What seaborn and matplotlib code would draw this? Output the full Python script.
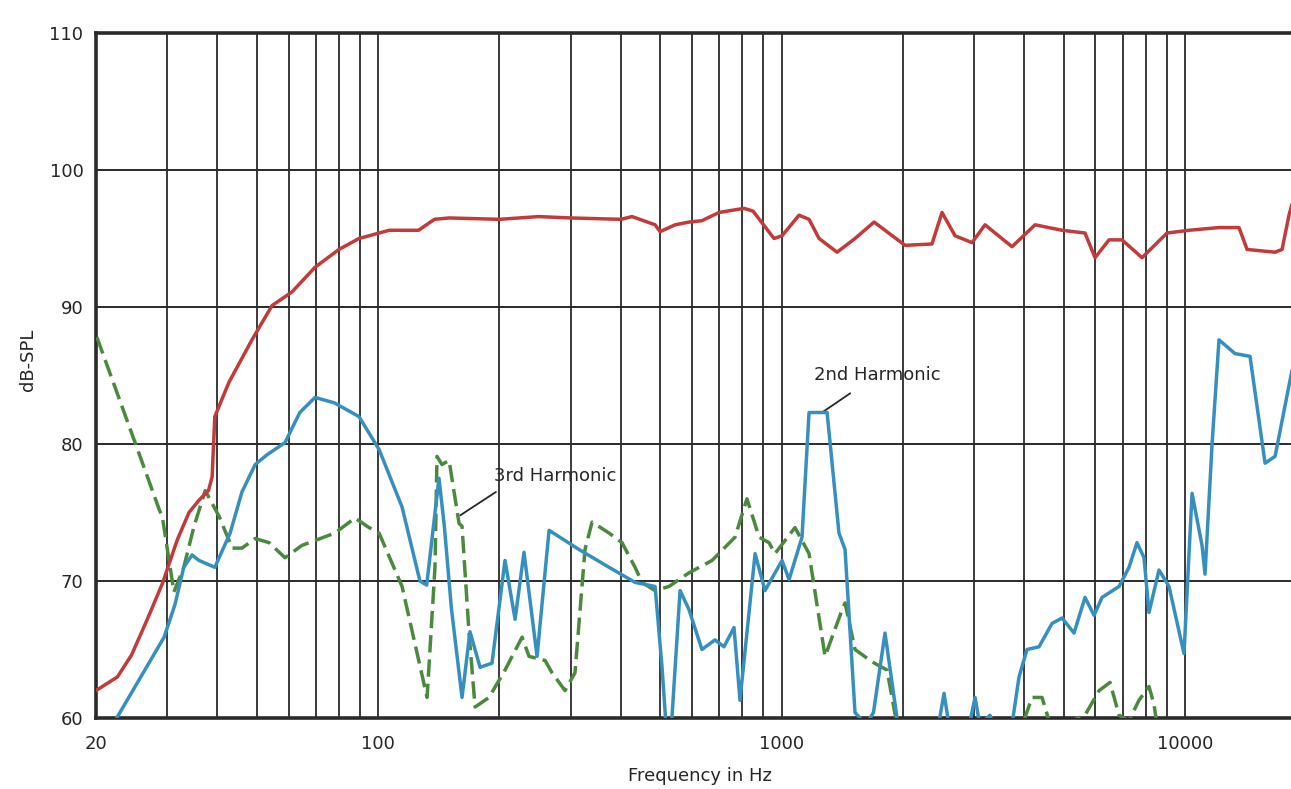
import numpy as np
import pandas as pd
import matplotlib
matplotlib.use("Agg")
import matplotlib.pyplot as plt
import seaborn as sns

# ---------------- data (Hz, dB-SPL) ----------------
resp_f = [20, 22.6, 24.5, 26.8, 29.2, 31.8, 34.0, 36.0, 38.0, 38.8, 39.4, 42.7, 48.7, 54.6,
          61.2, 69.8, 80.0, 89.7, 100.6, 106.5, 126, 138, 150, 200, 250, 300, 400, 426,
          486, 500, 545, 590, 635, 700, 807, 850, 958, 1003, 1105, 1170, 1239, 1373, 1521,
          1696, 2024, 2360, 2499, 2692, 2966, 3194, 3726, 4250, 4957, 5651, 5984, 6482,
          6981, 7824, 9025, 10230, 12140, 13610, 14250, 16720, 17400, 18100, 18530]
resp_db = [62.0, 63.0, 64.6, 67.2, 69.8, 73.0, 75.0, 75.9, 76.6, 77.6, 82.0, 84.5, 87.6, 90.1,
           91.1, 92.9, 94.2, 95.0, 95.4, 95.6, 95.6, 96.4, 96.5, 96.4, 96.6, 96.5, 96.4, 96.6,
           96.0, 95.5, 96.0, 96.2, 96.3, 96.9, 97.2, 97.0, 95.0, 95.2, 96.7, 96.4, 95.0, 94.0, 95.0,
           96.2, 94.5, 94.6, 96.9, 95.2, 94.7, 96.0, 94.4, 96.0, 95.6, 95.4, 93.6, 94.9,
           94.9, 93.6, 95.4, 95.6, 95.8, 95.8, 94.2, 94.0, 94.2, 96.7, 97.8]

h2_f = [22.0, 29.5, 31.4, 33.0, 34.6, 36.0, 39.4, 43.0, 46.0, 49.6, 53.0, 58.8, 64.0, 69.8,
        78.0, 89.7, 100.6, 114.7, 127, 132, 141.6, 146, 152, 161.5, 169, 179, 191.6, 206.4,
        218.6, 230, 247.8, 265.4, 314.8, 373.7, 433.5, 486, 505.7, 520, 535, 560.5, 590, 635,
        684, 720, 762.6, 789, 860, 910, 1003, 1044, 1124, 1170, 1297, 1388, 1437, 1521, 1620,
        1690, 1805, 1933, 2000, 2450, 2528, 2600, 2920, 3018, 3100, 3286, 3500, 3726, 3878,
        4059, 4348, 4682, 4957, 5308, 5651, 5951, 6228, 6862, 7265, 7603, 7914, 8142, 8621,
        9128, 9943, 10410, 11020, 11210, 11670, 12140, 13300, 14490, 15790, 16720, 18420]
h2_db = [59.5, 65.9, 68.3, 71.0, 71.9, 71.5, 71.0, 73.5, 76.5, 78.5, 79.2, 80.1, 82.3, 83.4,
         83.0, 82.0, 79.6, 75.4, 70.0, 69.7, 77.5, 74.0, 68.0, 61.5, 66.3, 63.7, 64.0, 71.5,
         67.2, 72.1, 64.5, 73.7, 72.3, 71.0, 69.9, 69.6, 63.7, 58.5, 60.0, 69.3, 67.9, 65.0,
         65.7, 65.2, 66.6, 61.3, 72.0, 69.3, 71.5, 70.1, 73.2, 82.3, 82.3, 73.5, 72.3, 60.4, 59.5,
         60.4, 66.2, 60.0, 58.0, 59.5, 61.8, 59.5, 59.5, 61.5, 59.5, 60.2, 58.0, 59.5, 63.0,
         65.0, 65.2, 66.9, 67.3, 66.2, 68.8, 67.5, 68.8, 69.6, 71.0, 72.8, 71.7, 67.7, 70.8,
         69.6, 64.7, 76.4, 72.6, 70.5, 80.0, 87.6, 86.6, 86.4, 78.6, 79.1, 85.4]

h3_f = [20.1, 25.0, 28.7, 29.2, 31.2, 33.0, 35.0, 37.3, 40.4, 43.5, 46.0, 49.6, 53.7, 58.8,
        64.8, 78.2, 87.7, 95.0, 100.6, 114.7, 132.3, 138.4, 140, 144, 150, 158.8, 161.5, 168.1,
        174, 188.4, 206.4, 227.5, 236.7, 259.4, 270, 290.7, 307.7, 325.8, 339.2, 373.7, 402.4,
        433.5, 451, 486, 526, 590, 672.6, 767, 821, 880, 931, 963.6, 1080, 1170, 1282, 1413,
        1437, 1521, 1677, 1826, 1911, 2000, 3000, 3900, 4177, 4423, 4603, 5248, 5651, 6123,
        6519, 6862, 7265, 7691, 8142, 8378, 8522, 9000]
h3_db = [87.8, 80.1, 75.2, 74.7, 69.2, 71.0, 74.0, 76.6, 74.7, 72.4, 72.4, 73.1, 72.8, 71.7,
         72.6, 73.5, 74.6, 73.9, 73.5, 69.6, 61.5, 71.0, 79.1, 78.5, 78.8, 74.2, 74.0, 66.2,
         60.8, 61.5, 63.5, 65.9, 64.5, 64.2, 63.3, 62.0, 63.3, 72.3, 74.3, 73.5, 72.8,
         71.0, 69.9, 69.3, 69.6, 70.6, 71.5, 73.2, 76.0, 73.2, 72.8, 72.0, 73.9, 72.0, 64.5, 67.9,
         68.4, 65.0, 64.1, 63.5, 60.3, 58.5, 58.0, 59.0, 61.5, 61.5, 59.8, 59.8, 60.2, 62.0,
         62.6, 60.2, 59.8, 61.3, 62.3, 61.0, 59.5, 58.0]

grid_x = [20, 30, 40, 50, 60, 70, 80, 90, 100, 200, 300, 400, 500, 600, 700, 800, 900,
          1000, 2000, 3000, 4000, 5000, 6000, 7000, 8000, 9000, 10000]
x_labels = {20: "20", 100: "100", 1000: "1000", 10000: "10000"}
y_ticks = [60, 70, 80, 90, 100, 110]

# ---------------- figure ----------------
sns.set_style("white")
plt.rcParams['font.family'] = ['DejaVu Sans']

W, H = 1291, 789
fig = plt.figure(figsize=(W / 100, H / 100), dpi=100)
ax = fig.add_axes([96 / W, 1 - 718 / H, (W - 96) / W, (718 - 33) / H])

ax.set_xscale("log")
ax.set_xlim(20, 18310)
ax.set_ylim(60, 110)

# grid
for g in grid_x[1:]:
    ax.axvline(g, color="#3a3a3a", lw=1.4, zorder=1)
for yv in y_ticks[1:-1]:
    ax.axhline(yv, color="#2a2a2a", lw=1.4, zorder=1)

df_r = pd.DataFrame({"f": resp_f, "db": resp_db})
df_2 = pd.DataFrame({"f": h2_f, "db": h2_db})
df_3 = pd.DataFrame({"f": h3_f, "db": h3_db})

sns.lineplot(data=df_3, x="f", y="db", ax=ax, color="#4a8a3c", lw=2.5,
             linestyle=(0, (5, 2)), estimator=None, sort=False, zorder=3)
sns.lineplot(data=df_2, x="f", y="db", ax=ax, color="#3590bf", lw=2.5,
             estimator=None, sort=False, zorder=4)
sns.lineplot(data=df_r, x="f", y="db", ax=ax, color="#c23a3a", lw=2.5,
             estimator=None, sort=False, zorder=5)

TXT = "#262626"
FS = 13
ax.set_xticks(grid_x)
ax.set_xticklabels([x_labels.get(g, "") for g in grid_x])
ax.xaxis.set_minor_locator(matplotlib.ticker.NullLocator())
ax.set_yticks(y_ticks)
ax.set_yticklabels([str(v) for v in y_ticks])
ax.tick_params(axis="both", length=0, labelsize=FS, colors=TXT)
ax.tick_params(axis="x", pad=12)
ax.tick_params(axis="y", pad=9)

for s in ["left", "bottom", "top"]:
    ax.spines[s].set_color("#2a2a2a")
    ax.spines[s].set_linewidth(2.6)
ax.spines["right"].set_visible(False)

ax.set_xlabel("Frequency in Hz", fontsize=FS, color=TXT)
ax.set_ylabel("dB-SPL", fontsize=FS, color=TXT)
ax.xaxis.set_label_coords((700 - 96) / 1195, (718 - 776) / 685)
ax.yaxis.set_label_coords((28 - 96) / 1195, (718 - 360) / 685)
ax.xaxis.label.set_va("center")
ax.yaxis.label.set_va("center")

# annotations: leader lines + labels
ax.annotate("", xy=(160, 74.8), xytext=(196, 76.5),
            arrowprops=dict(arrowstyle="-", color=TXT, lw=1.3, shrinkA=0, shrinkB=0))
ax.text(275, 77.7, "3rd Harmonic", ha="center", va="center", fontsize=FS, color=TXT)
ax.annotate("", xy=(1260, 82.3), xytext=(1480, 83.7),
            arrowprops=dict(arrowstyle="-", color=TXT, lw=1.3, shrinkA=0, shrinkB=0))
ax.text(1725, 85.0, "2nd Harmonic", ha="center", va="center", fontsize=FS, color=TXT)

fig.savefig("out.png", dpi=100)
